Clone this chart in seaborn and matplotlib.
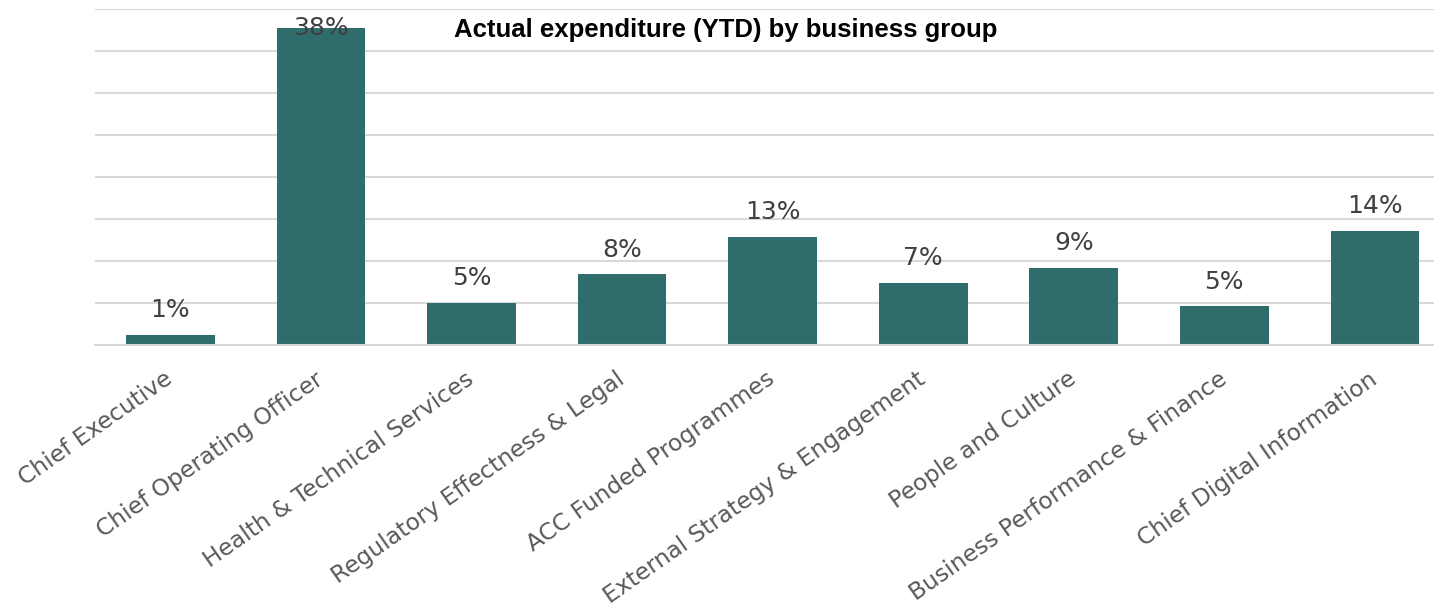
import pandas as pd
import matplotlib.pyplot as plt
import seaborn as sns

groups = [
    "Chief Executive",
    "Chief Operating Officer",
    "Health & Technical Services",
    "Regulatory Effectness & Legal",
    "ACC Funded Programmes",
    "External Strategy & Engagement",
    "People and Culture",
    "Business Performance & Finance",
    "Chief Digital Information",
]
share = [1.2, 37.7, 5.0, 8.4, 12.9, 7.4, 9.2, 4.6, 13.6]

df = pd.DataFrame({"group": groups, "share": share})

sns.set_style("white")
plt.rcParams["font.family"] = ["DejaVu Sans"]

fig = plt.figure(figsize=(14.34, 6.11), dpi=100)
# plot area runs a little past the right edge of the image, as in the original
ax = fig.add_axes([0.0663, 0.4354, 0.9450, 0.5499])

sns.barplot(data=df, x="group", y="share", color="#2F6C6C", width=0.59,
            saturation=1, linewidth=0, ax=ax)

ymax = 40
ax.set_ylim(0, ymax)
ax.set_xlim(-0.5, len(groups) - 0.5)
ax.set_yticks(range(0, ymax + 1, 5))
ax.yaxis.grid(True, color="#d9d9d9", linewidth=1.5)
ax.set_axisbelow(True)
ax.tick_params(axis="y", left=False, labelleft=False)
for s in ["top", "right", "left"]:
    ax.spines[s].set_visible(False)
ax.spines["bottom"].set_color("#d9d9d9")
ax.spines["bottom"].set_linewidth(1.5)

# ticks between categories, labels at the centres
ax.set_xticks([i - 0.5 for i in range(len(groups) + 1)], minor=True)
ax.tick_params(axis="x", which="minor", length=7, width=1.5, color="#d9d9d9")
ax.tick_params(axis="x", which="major", length=0, pad=23)
ax.set_xticks(range(len(groups)))
ax.set_xticklabels(groups, rotation=35, ha="right", va="center",
                   rotation_mode="anchor", fontsize=16.8, color="#595959")
ax.set_xlabel("")
ax.set_ylabel("")

for i, v in enumerate(share):
    if v > ymax - 4:
        ax.annotate(f"{v:.0f}%", (i, v), ha="center", va="center",
                    fontsize=18, color="#404040")
    else:
        ax.annotate(f"{v:.0f}%", (i, v), xytext=(0, 9), textcoords="offset points",
                    ha="center", va="bottom", fontsize=18, color="#404040")

fig.text(726 / 1434, 1 - 30 / 611, "Actual expenditure (YTD) by business group",
         ha="center", va="center",
         fontsize=18.5, fontweight="bold", family="Liberation Sans", color="black")

fig.savefig("out.png", dpi=100)
